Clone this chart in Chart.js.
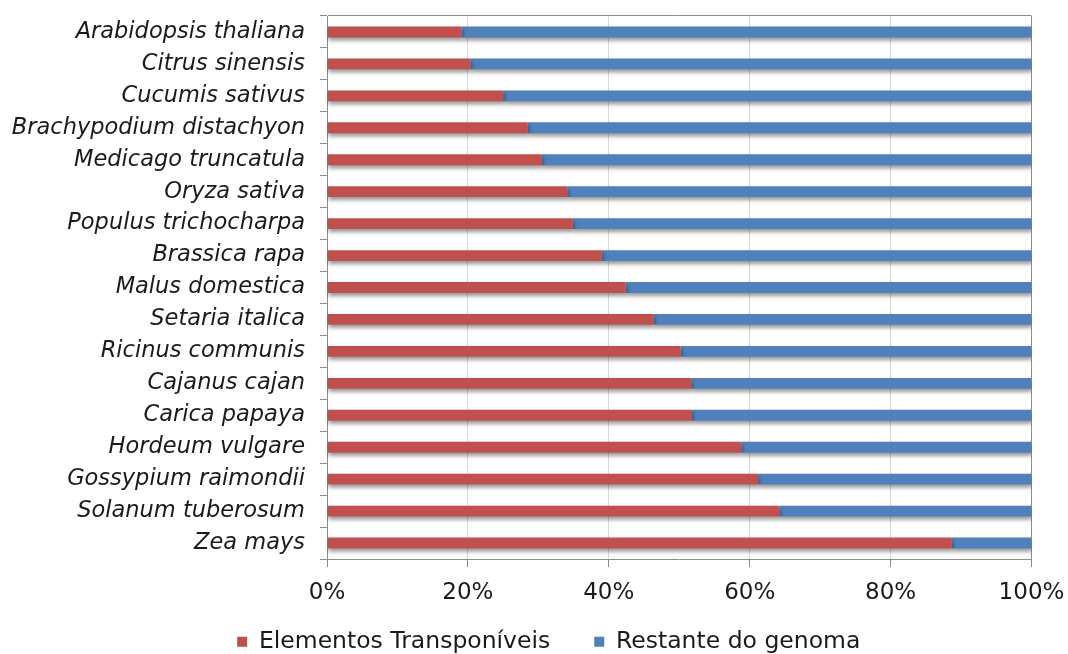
<!DOCTYPE html>
<html>
<head>
<meta charset="utf-8">
<script src="https://cdn.jsdelivr.net/npm/chart.js@4.4.1/dist/chart.umd.min.js"></script>
<style>
  html, body { margin: 0; padding: 0; background: #ffffff; }
  canvas { display: block; }
</style>
</head>
<body>
<canvas id="chart" width="1068" height="654"></canvas>
<script>
// Species, top to bottom
const species = [
  'Arabidopsis thaliana', 'Citrus sinensis', 'Cucumis sativus', 'Brachypodium distachyon',
  'Medicago truncatula', 'Oryza sativa', 'Populus trichocharpa', 'Brassica rapa',
  'Malus domestica', 'Setaria italica', 'Ricinus communis', 'Cajanus cajan',
  'Carica papaya', 'Hordeum vulgare', 'Gossypium raimondii', 'Solanum tuberosum', 'Zea mays'
];

// Share of each genome (%)
const transposableElements = [19.1, 20.4, 25.0, 28.5, 30.5, 34.1, 34.9, 39.0, 42.4, 46.4, 50.2, 51.7, 51.8, 58.8, 61.2, 64.2, 88.7];
const restOfGenome = [80.9, 79.6, 75.0, 71.5, 69.5, 65.9, 65.1, 61.0, 57.6, 53.6, 49.8, 48.3, 48.2, 41.2, 38.8, 35.8, 11.3];

const seriesNames = ['Elementos Transponíveis', 'Restante do genoma'];
const xTicks = [0, 20, 40, 60, 80, 100];

const FONT = 'DejaVu Sans';
const TEXT = '#1a1a1a';
const AXIS = '#8c8c8c';
const GRID = '#d9d9d9';

// Soft drop shadow under the bars
const barShadow = {
  id: 'barShadow',
  beforeDatasetsDraw(chart) {
    const ctx = chart.ctx;
    ctx.save();
    ctx.shadowColor = 'rgba(0,0,0,0.42)';
    ctx.shadowBlur = 4;
    ctx.shadowOffsetX = 1;
    ctx.shadowOffsetY = 3;
  },
  afterDatasetsDraw(chart) {
    chart.ctx.restore();
  }
};

// Centre the legend row under the whole figure and pull it up towards the axis labels
const legendOffset = {
  id: 'legendOffset',
  afterLayout(chart) {
    const lg = chart.legend;
    if (lg) {
      lg.left += 66;
      lg.width = lg.right - lg.left;
      lg.top -= 19;
      lg.bottom = chart.height;
      lg.height = lg.bottom - lg.top;
    }
  }
};

new Chart(document.getElementById('chart'), {
  type: 'bar',
  data: {
    labels: species,
    datasets: [
      {
        label: seriesNames[0],
        data: transposableElements,
        backgroundColor: '#C0504D',
        borderWidth: 0,
        barPercentage: 0.34,
        categoryPercentage: 1
      },
      {
        label: seriesNames[1],
        data: restOfGenome,
        backgroundColor: '#4F81BD',
        borderWidth: 0,
        barPercentage: 0.34,
        categoryPercentage: 1
      }
    ]
  },
  options: {
    indexAxis: 'y',
    responsive: false,
    animation: false,
    layout: { padding: { left: 0, right: 36.5, top: 16, bottom: 0 } },
    scales: {
      x: {
        stacked: true,
        min: 0,
        max: 100,
        afterBuildTicks(scale) {
          scale.ticks = xTicks.map(v => ({ value: v }));
        },
        afterFit(scale) {
          scale.height = 46;
          scale.paddingLeft = 0;
          scale.paddingRight = 0;
        },
        border: { display: true, color: AXIS, width: 1 },
        grid: {
          color: c => (c.tick && c.tick.value === 100) ? AXIS : GRID,
          tickColor: AXIS,
          tickLength: 8,
          lineWidth: 1
        },
        ticks: {
          padding: 12,
          color: TEXT,
          font: { family: FONT, size: 23 },
          maxRotation: 0,
          callback: v => v + '%'
        }
      },
      y: {
        stacked: true,
        afterFit(scale) {
          scale.width = 327;
          scale.paddingTop = 0;
          scale.paddingBottom = 0;
        },
        border: { display: true, color: AXIS, width: 1 },
        grid: {
          offset: true,
          drawOnChartArea: true,
          color: c => c.index === 0 ? AXIS : 'rgba(0,0,0,0)',
          tickColor: AXIS,
          tickLength: 7
        },
        ticks: {
          autoSkip: false,
          padding: 15,
          color: TEXT,
          font: { family: FONT, size: 22.5, style: 'italic' }
        }
      }
    },
    plugins: {
      tooltip: { enabled: false },
      legend: {
        position: 'bottom',
        maxHeight: 49,
        labels: {
          boxWidth: 10,
          boxHeight: 10,
          padding: 44,
          color: TEXT,
          font: { family: FONT, size: 23.5 }
        }
      }
    }
  },
  plugins: [barShadow, legendOffset]
});
</script>
</body>
</html>
